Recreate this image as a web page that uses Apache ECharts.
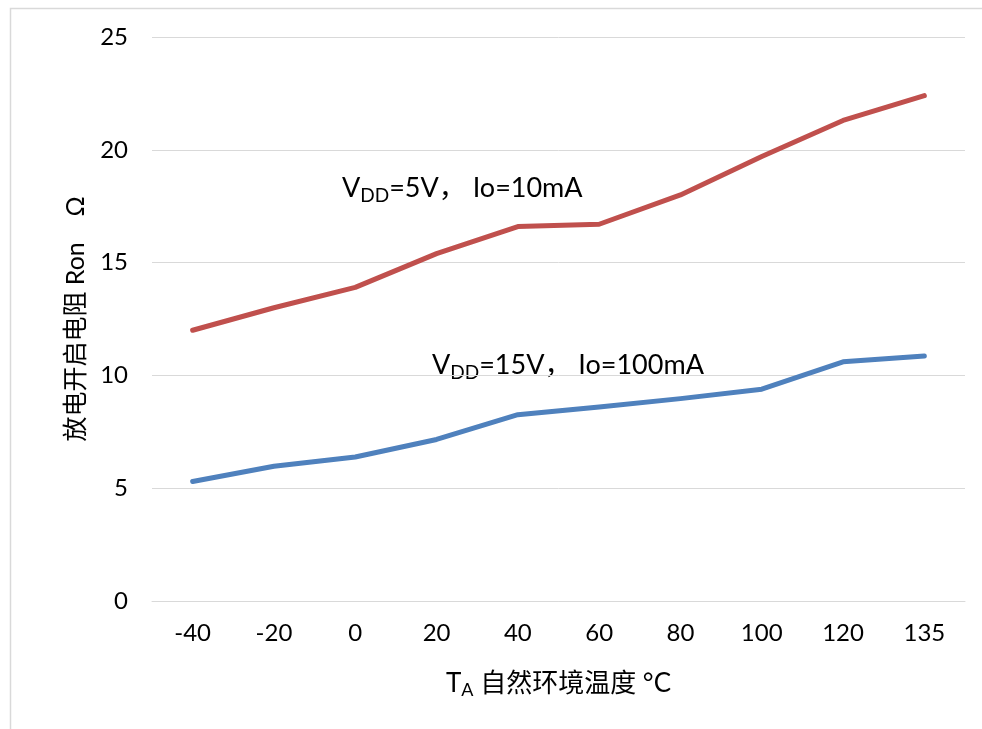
<!DOCTYPE html>
<html>
<head>
<meta charset="utf-8">
<script src="https://cdn.jsdelivr.net/npm/echarts@6/dist/echarts.min.js"></script>
<style>
  html, body { margin: 0; padding: 0; background: #fff; }
  #chart { width: 982px; height: 729px; }
</style>
</head>
<body>
<div id="chart"></div>
<script>
// Ambient temperature (°C) categories
const temperatures = ['-40', '-20', '0', '20', '40', '60', '80', '100', '120', '135'];
// On-resistance (Ω) at VDD=5V, Io=10mA
const ron5V = [12.0, 13.0, 13.9, 15.4, 16.6, 16.7, 18.0, 19.7, 21.3, 22.4];
// On-resistance (Ω) at VDD=15V, Io=100mA
const ron15V = [5.3, 5.97, 6.38, 7.16, 8.26, 8.6, 8.97, 9.39, 10.6, 10.86];
// Value axis range
const yMin = 0, yMax = 25, yStep = 5;

const FONT = 'Lato, "Noto Sans CJK SC", sans-serif';
const chart = echarts.init(document.getElementById('chart'), null, { renderer: 'canvas' });

const richLabel = {
  base: { fontFamily: FONT, fontSize: 27, color: '#000' },
  sub: { fontFamily: FONT, fontSize: 19, color: '#000', padding: [14, 0, 0, 0] }
};

chart.setOption({
  backgroundColor: '#fff',
  animation: false,
  grid: { left: 152, right: 17, top: 37, bottom: 128 },
  xAxis: {
    type: 'category',
    data: temperatures,
    boundaryGap: true,
    axisLine: { show: true, lineStyle: { color: '#d9d9d9', width: 1 } },
    axisTick: { show: false },
    axisLabel: { color: '#000', fontFamily: FONT, fontSize: 24, margin: 20 },
    name: '{t|T}{s|A}{t| 自然环境温度 °C}',
    nameLocation: 'middle',
    nameGap: 68,
    nameTextStyle: {
      rich: {
        t: { fontFamily: FONT, fontSize: 26, color: '#000' },
        s: { fontFamily: FONT, fontSize: 18, color: '#000', padding: [12, 0, 0, 0] }
      }
    }
  },
  yAxis: {
    type: 'value',
    min: yMin,
    max: yMax,
    interval: yStep,
    axisLine: { show: false },
    axisTick: { show: false },
    splitLine: { lineStyle: { color: '#d9d9d9', width: 1 } },
    axisLabel: { color: '#000', fontFamily: FONT, fontSize: 24, margin: 24 },
    name: '放电开启电阻 Ron    Ω',
    nameLocation: 'middle',
    nameGap: 64,
    nameRotate: 90,
    nameTextStyle: { color: '#000', fontFamily: FONT, fontSize: 25 }
  },
  series: [
    {
      name: 'VDD=5V, Io=10mA',
      type: 'line',
      data: ron5V,
      showSymbol: false,
      lineStyle: { color: '#c0504d', width: 5, cap: 'round', join: 'round' }
    },
    {
      name: 'VDD=15V, Io=100mA',
      type: 'line',
      data: ron15V,
      showSymbol: false,
      lineStyle: { color: '#4f81bd', width: 5, cap: 'round', join: 'round' }
    }
  ],
  graphic: [
    {
      type: 'rect',
      shape: { x: 10.5, y: 8.5, width: 1000, height: 800 },
      style: { fill: 'none', stroke: '#d9d9d9', lineWidth: 1.5 },
      silent: true
    },
    {
      type: 'text',
      left: 342,
      top: 175,
      style: {
        text: '{base|V}{sub|DD}{base|=5V， Io=10mA}',
        rich: richLabel
      }
    },
    {
      type: 'text',
      left: 432,
      top: 352,
      style: {
        text: '{base|V}{sub|DD}{base|=15V， Io=100mA}',
        rich: richLabel
      }
    }
  ]
});
</script>
</body>
</html>
